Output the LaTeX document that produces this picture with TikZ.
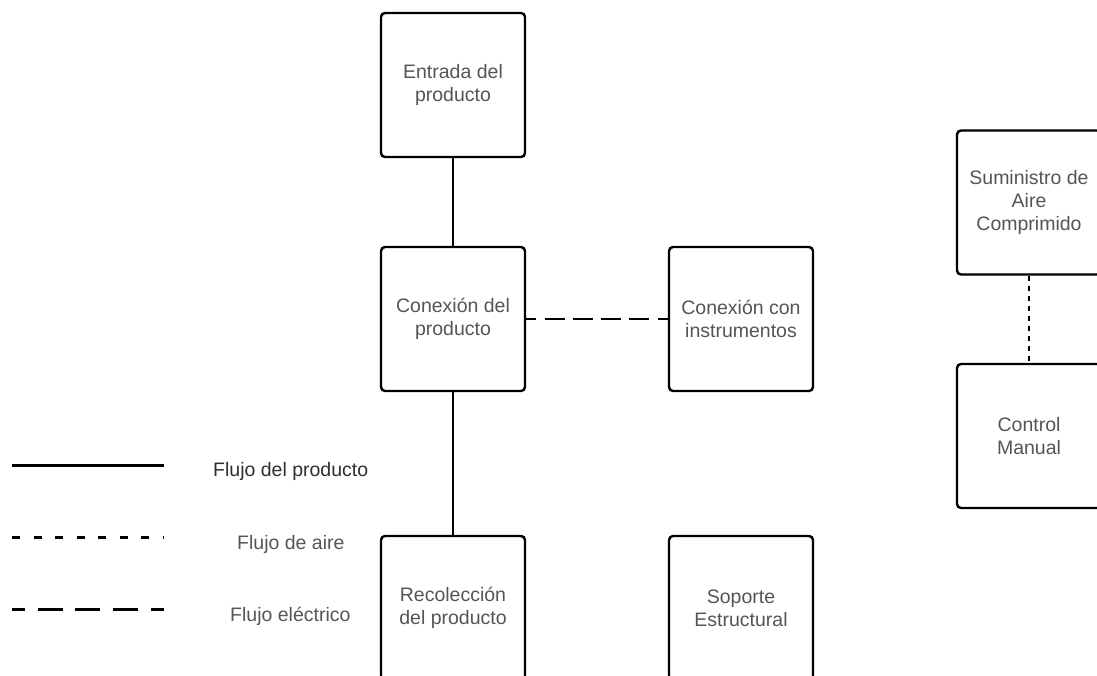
\documentclass[tikz,border=0pt]{standalone}
\usepackage{fontspec}
\setmainfont{Liberation Sans}
\definecolor{boxtext}{HTML}{555555}
\definecolor{legdark}{HTML}{2E2E2E}
\begin{document}
\begin{tikzpicture}[x=1pt,y=1pt,
  block/.style={draw=black, line width=2.4pt, rounded corners=4pt, fill=white,
    minimum width=144pt, minimum height=144pt, align=center,
    text=boxtext, font=\fontsize{19.5}{23}\selectfont, inner sep=0pt},
  prodflow/.style={line width=1.6pt},
  airflow/.style={line width=1.6pt, dash pattern=on 5pt off 5pt},
  elecflow/.style={line width=1.6pt, dash pattern=on 20pt off 8.3pt, dash phase=10pt},
  legline/.style={line width=3pt},
  legtext/.style={text=boxtext, font=\fontsize{19.5}{23}\selectfont, inner sep=0pt}]
\useasboundingbox (0,0) rectangle (1097,-675);
\clip (0,0) rectangle (1097,-675);

% main product line
\node[block] (entrada) at (453,-85) {Entrada del\\producto};
\node[block] (conexion) at (453,-319) {Conexión del\\producto};
\node[block] (instr) at (741,-319) {Conexión con\\instrumentos};
\node[block] (recol) at (453,-608) {Recolección\\del producto};
\node[block] (soporte) at (741,-608) {Soporte\\Estructural};

% compressed air branch
\node[block] (aire) at (1029,-202.5) {Suministro de\\Aire\\Comprimido};
\node[block] (control) at (1029,-436) {Control\\Manual};

% connectors
\draw[prodflow] (entrada.south) -- (conexion.north);
\draw[prodflow] (conexion.south) -- (recol.north);
\draw[elecflow] (conexion.east) -- (instr.west);
\draw[airflow] (aire.south) -- (control.north);

% legend
\coordinate (l1a) at (12,-465);  \coordinate (l1b) at (164,-465);
\coordinate (l2a) at (12,-537);  \coordinate (l2b) at (164,-537);
\coordinate (l3a) at (12,-609);  \coordinate (l3b) at (164,-609);
\draw[legline] (l1a) -- (l1b);
\draw[legline, dash pattern=on 8pt off 13.5pt] (l2a) -- (l2b);
\draw[legline, dash pattern=on 25pt off 12.7pt, dash phase=12pt] (l3a) -- (l3b);
\node[legtext, text=legdark, anchor=west] (lg1) at (213,-471) {Flujo del producto};
\node[legtext, anchor=west] (lg2) at (237,-544) {Flujo de aire};
\node[legtext, anchor=west] (lg3) at (230,-616) {Flujo eléctrico};
\end{tikzpicture}
\end{document}
